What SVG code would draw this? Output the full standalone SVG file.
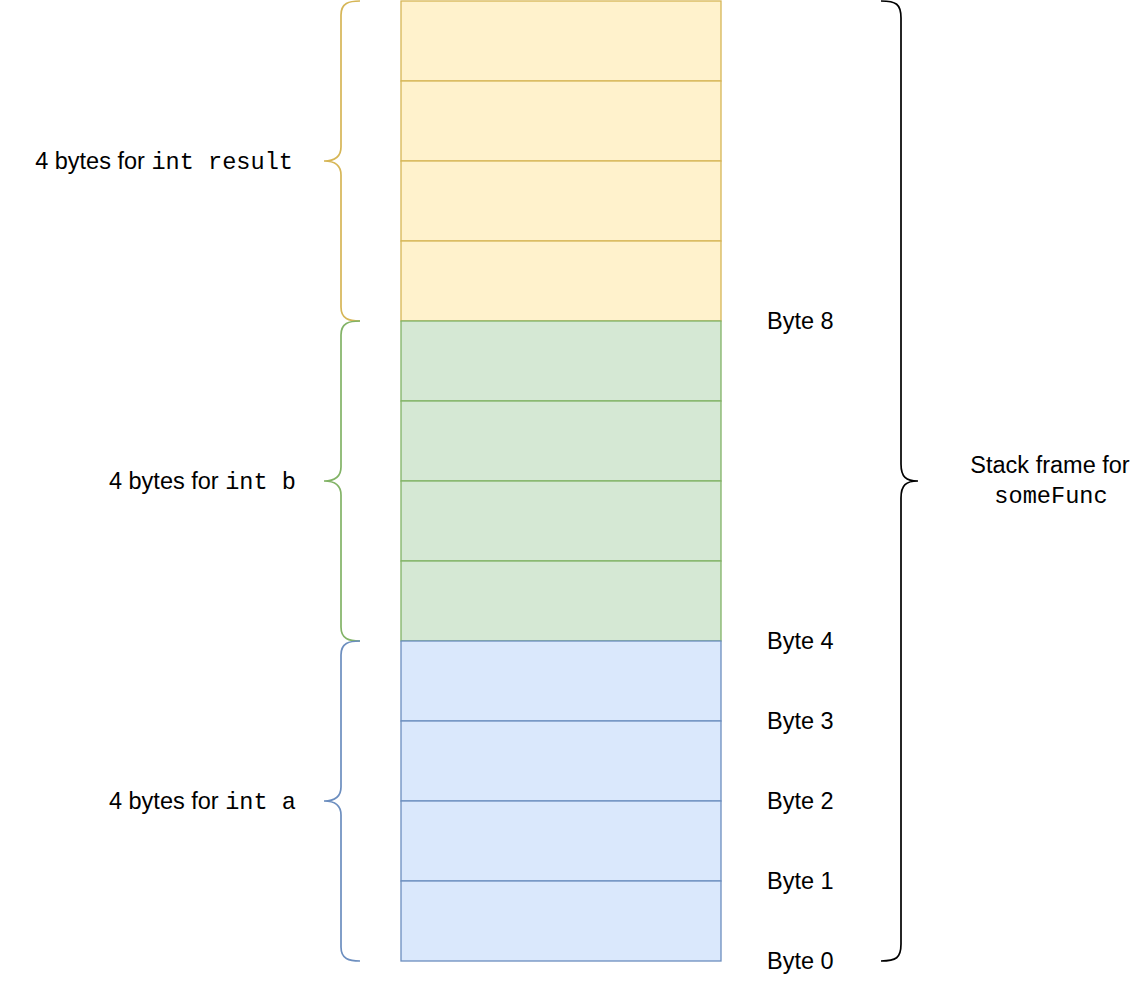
<svg xmlns="http://www.w3.org/2000/svg" width="1142" height="982" viewBox="0 0 1142 982">
<style>
.y{fill:#fff2cc;stroke:#d6b656;stroke-width:1.3}
.g{fill:#d5e8d4;stroke:#82b366;stroke-width:1.3}
.b{fill:#dae8fc;stroke:#6c8ebf;stroke-width:1.3}
.br{fill:none;stroke-width:1.7}
.t{font-family:"Liberation Sans",Arial,sans-serif;font-size:23.5px;fill:#000}
.m{font-family:"Liberation Mono","Courier New",monospace;font-size:23.6px}
</style>
<rect width="1142" height="982" fill="#fff"/>
<g id="cells">
<g id="result-cells">
<rect class="y" x="401" y="1" width="320" height="80"/>
<rect class="y" x="401" y="81" width="320" height="80"/>
<rect class="y" x="401" y="161" width="320" height="80"/>
<rect class="y" x="401" y="241" width="320" height="80"/>
</g>
<g id="b-cells">
<rect class="g" x="401" y="321" width="320" height="80"/>
<rect class="g" x="401" y="401" width="320" height="80"/>
<rect class="g" x="401" y="481" width="320" height="80"/>
<rect class="g" x="401" y="561" width="320" height="80"/>
</g>
<g id="a-cells">
<rect class="b" x="401" y="641" width="320" height="80"/>
<rect class="b" x="401" y="721" width="320" height="80"/>
<rect class="b" x="401" y="801" width="320" height="80"/>
<rect class="b" x="401" y="881" width="320" height="80"/>
</g>
</g>
<g id="braces">
<path class="br" stroke="#d6b656" d="M360,1 C349,1 341,3 341,15 L341,147 C341,157 335,161 324,161 C335,161 341,165 341,175 L341,307 C341,319 349,321 360,321"/>
<path class="br" stroke="#82b366" d="M360,321 C349,321 341,323 341,335 L341,467 C341,477 335,481 324,481 C335,481 341,485 341,495 L341,627 C341,639 349,641 360,641"/>
<path class="br" stroke="#6c8ebf" d="M360,641 C349,641 341,643 341,655 L341,787 C341,797 335,801 324,801 C335,801 341,805 341,815 L341,947 C341,959 349,961 360,961"/>
<path class="br" stroke="#000" d="M881,1 C896,1 901,4 901,18 L901,464 C901,477 906,481 918,481 C906,481 901,485 901,498 L901,944 C901,958 896,961 881,961"/>
</g>
<g id="labels">
<text class="t" x="293" y="169" text-anchor="end">4 bytes for <tspan class="m">int result</tspan></text>
<text class="t" x="296" y="489" text-anchor="end">4 bytes for <tspan class="m">int b</tspan></text>
<text class="t" x="296" y="809" text-anchor="end">4 bytes for <tspan class="m">int a</tspan></text>
<text class="t" x="767" y="329">Byte 8</text>
<text class="t" x="767" y="649">Byte 4</text>
<text class="t" x="767" y="729">Byte 3</text>
<text class="t" x="767" y="809">Byte 2</text>
<text class="t" x="767" y="889">Byte 1</text>
<text class="t" x="767" y="969">Byte 0</text>
<text class="t" x="1050" y="473" text-anchor="middle">Stack frame for</text>
<text class="t m" x="1051" y="503" text-anchor="middle">someFunc</text>
</g>
</svg>
